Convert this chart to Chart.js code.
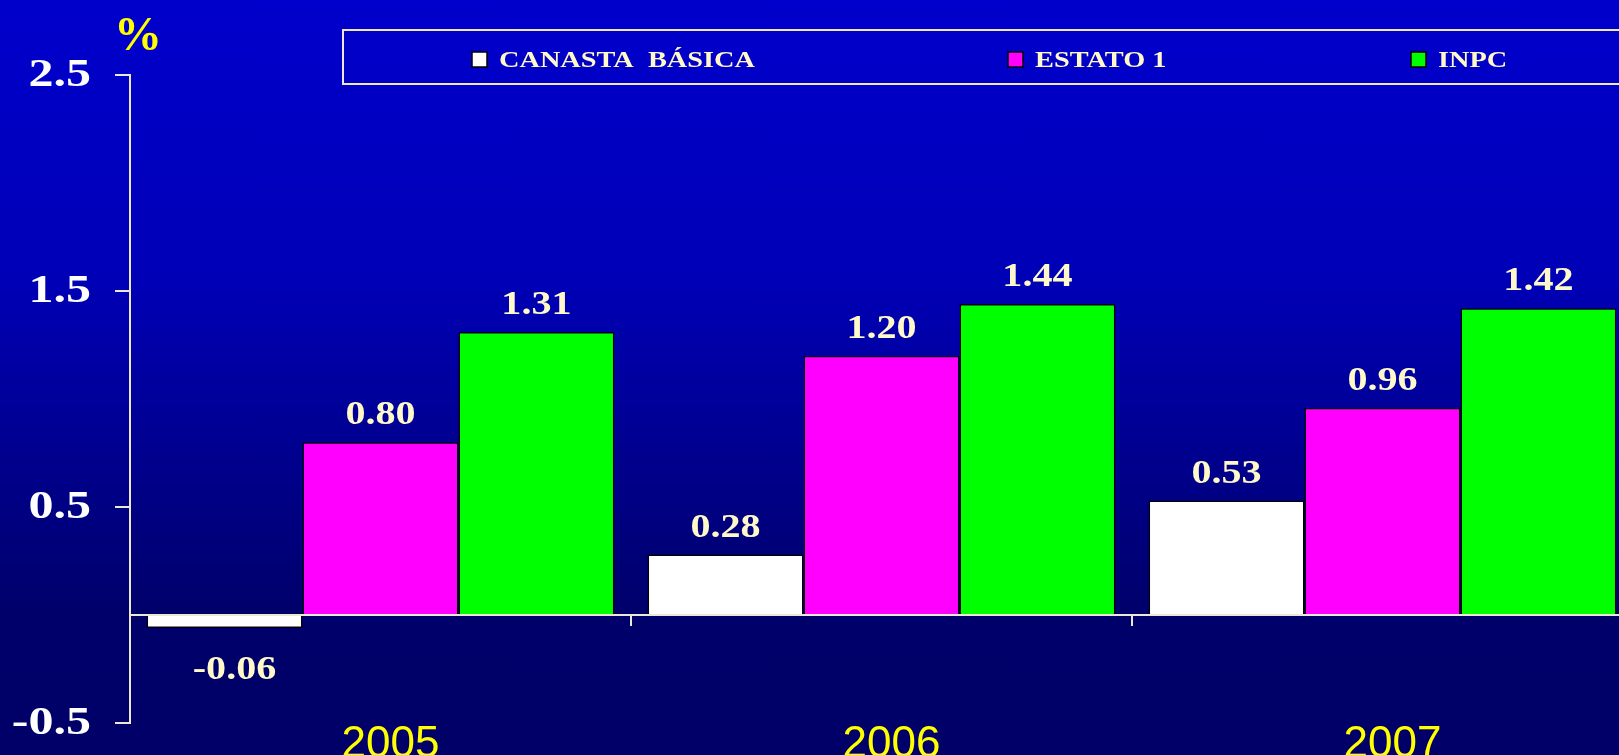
<!DOCTYPE html>
<html>
<head>
<meta charset="utf-8">
<script src="https://cdn.jsdelivr.net/npm/chart.js@4.4.0/dist/chart.umd.min.js"></script>
<style>
  html, body { margin: 0; padding: 0; overflow: hidden; }
  body {
    width: 1619px;
    height: 755px;
    background: linear-gradient(to bottom, #0000cc 0px, #0000b6 280px, #000084 500px, #00006a 615px, #000068 755px);
  }
  canvas { display: block; }
</style>
</head>
<body>
<canvas id="chart" width="1633" height="755"></canvas>
<script>
const years = ['2005', '2006', '2007'];
const canastaBasica = [-0.06, 0.28, 0.53];
const estato1 = [0.80, 1.20, 0.96];
const inpc = [1.31, 1.44, 1.42];
const yTicks = [-0.5, 0.5, 1.5, 2.5];

const axisColor = '#ece8d4';
const labelColor = '#fff8c8';
const serif = '"Liberation Serif", "Times New Roman", serif';

// text in this chart is drawn a bit wider than the font's natural width
function stretchText(ctx, text, x, y, sx) {
    ctx.save();
    ctx.translate(x, y);
    ctx.scale(sx, 1);
    ctx.fillText(text, 0, 0);
    ctx.restore();
}

// zero line across the plot with small ticks between the year groups
const zeroLine = {
    id: 'zeroLine',
    afterDatasetsDraw(chart) {
        const { ctx, chartArea, scales: { x, y } } = chart;
        const y0 = y.getPixelForValue(0);
        ctx.save();
        ctx.strokeStyle = axisColor;
        ctx.lineWidth = 2;
        ctx.beginPath();
        ctx.moveTo(chartArea.left, y0);
        ctx.lineTo(chartArea.right, y0);
        for (let i = 1; i < years.length; i++) {
            const bx = (x.getPixelForValue(i - 1) + x.getPixelForValue(i)) / 2;
            ctx.moveTo(bx, y0);
            ctx.lineTo(bx, y0 + 11);
        }
        ctx.stroke();
        ctx.restore();
    }
};

// value above each bar (below it when negative)
const barValues = {
    id: 'barValues',
    afterDatasetsDraw(chart) {
        const ctx = chart.ctx;
        ctx.save();
        ctx.font = 'bold 34px ' + serif;
        ctx.fillStyle = labelColor;
        ctx.textAlign = 'center';
        chart.data.datasets.forEach((ds, di) => {
            const meta = chart.getDatasetMeta(di);
            meta.data.forEach((bar, i) => {
                const v = ds.data[i];
                if (v >= 0) {
                    ctx.textBaseline = 'alphabetic';
                    stretchText(ctx, v.toFixed(2), bar.x, bar.y - 18, 1.18);
                } else {
                    ctx.textBaseline = 'top';
                    stretchText(ctx, v.toFixed(2), bar.x + 10, bar.y + 25, 1.18);
                }
            });
        });
        ctx.restore();
    }
};

// y tick labels, widened like the rest of the text
const yLabels = {
    id: 'yLabels',
    afterDraw(chart) {
        const { ctx, scales: { y } } = chart;
        ctx.save();
        ctx.font = 'bold 40px ' + serif;
        ctx.fillStyle = '#ffffff';
        ctx.textAlign = 'right';
        ctx.textBaseline = 'middle';
        y.ticks.forEach((t, i) => {
            stretchText(ctx, String(t.value), y.right - 39, y.getPixelForTick(i) + 1, 1.25);
        });
        ctx.restore();
    }
};

// boxed legend across the top and the % unit mark
const legendX = [472, 1008, 1411];
const boxLegend = {
    id: 'boxLegend',
    afterDraw(chart) {
        const ctx = chart.ctx;
        ctx.save();
        ctx.strokeStyle = axisColor;
        ctx.lineWidth = 2;
        ctx.strokeRect(343, 30, 1400, 54);
        ctx.font = 'bold 24px ' + serif;
        ctx.textAlign = 'left';
        ctx.textBaseline = 'alphabetic';
        chart.data.datasets.forEach((ds, i) => {
            const lx = legendX[i];
            ctx.fillStyle = ds.backgroundColor;
            ctx.fillRect(lx, 52, 15, 15);
            ctx.strokeStyle = '#000';
            ctx.lineWidth = 1.5;
            ctx.strokeRect(lx, 52, 15, 15);
            ctx.fillStyle = labelColor;
            stretchText(ctx, ds.label, lx + 27, 67, 1.18);
        });

        ctx.font = 'bold 48px ' + serif;
        ctx.fillStyle = '#ffff00';
        ctx.textAlign = 'center';
        ctx.fillText('%', chart.scales.y.right + 8, 50);
        ctx.restore();
    }
};

new Chart(document.getElementById('chart'), {
    type: 'bar',
    data: {
        labels: years,
        datasets: [
            { label: 'CANASTA  BÁSICA', data: canastaBasica, backgroundColor: '#ffffff' },
            { label: 'ESTATO 1', data: estato1, backgroundColor: '#ff00ff' },
            { label: 'INPC', data: inpc, backgroundColor: '#00ff00' }
        ]
    },
    options: {
        responsive: false,
        animation: false,
        layout: { padding: { top: 75, left: 0, right: 0, bottom: 0 } },
        datasets: {
            bar: {
                borderColor: '#000000',
                borderWidth: 1.5,
                categoryPercentage: 0.934,
                barPercentage: 1.0
            }
        },
        plugins: {
            legend: { display: false },
            tooltip: { enabled: false }
        },
        scales: {
            x: {
                afterFit(s) { s.height = 32; },
                grid: { display: false },
                border: { display: false },
                ticks: {
                    color: '#ffff00',
                    font: { family: '"Liberation Sans", Arial, sans-serif', size: 44 },
                    padding: -13,
                    labelOffset: 10,
                    maxRotation: 0,
                    autoSkip: false
                }
            },
            y: {
                min: -0.5,
                max: 2.5,
                afterFit(s) { s.width = 130; },
                afterBuildTicks(s) { s.ticks = yTicks.map(v => ({ value: v })); },
                grid: { drawOnChartArea: false, color: axisColor, lineWidth: 2, tickLength: 15 },
                border: { color: axisColor, width: 2 },
                ticks: { display: false }
            }
        }
    },
    plugins: [zeroLine, barValues, yLabels, boxLegend]
});
</script>
</body>
</html>
